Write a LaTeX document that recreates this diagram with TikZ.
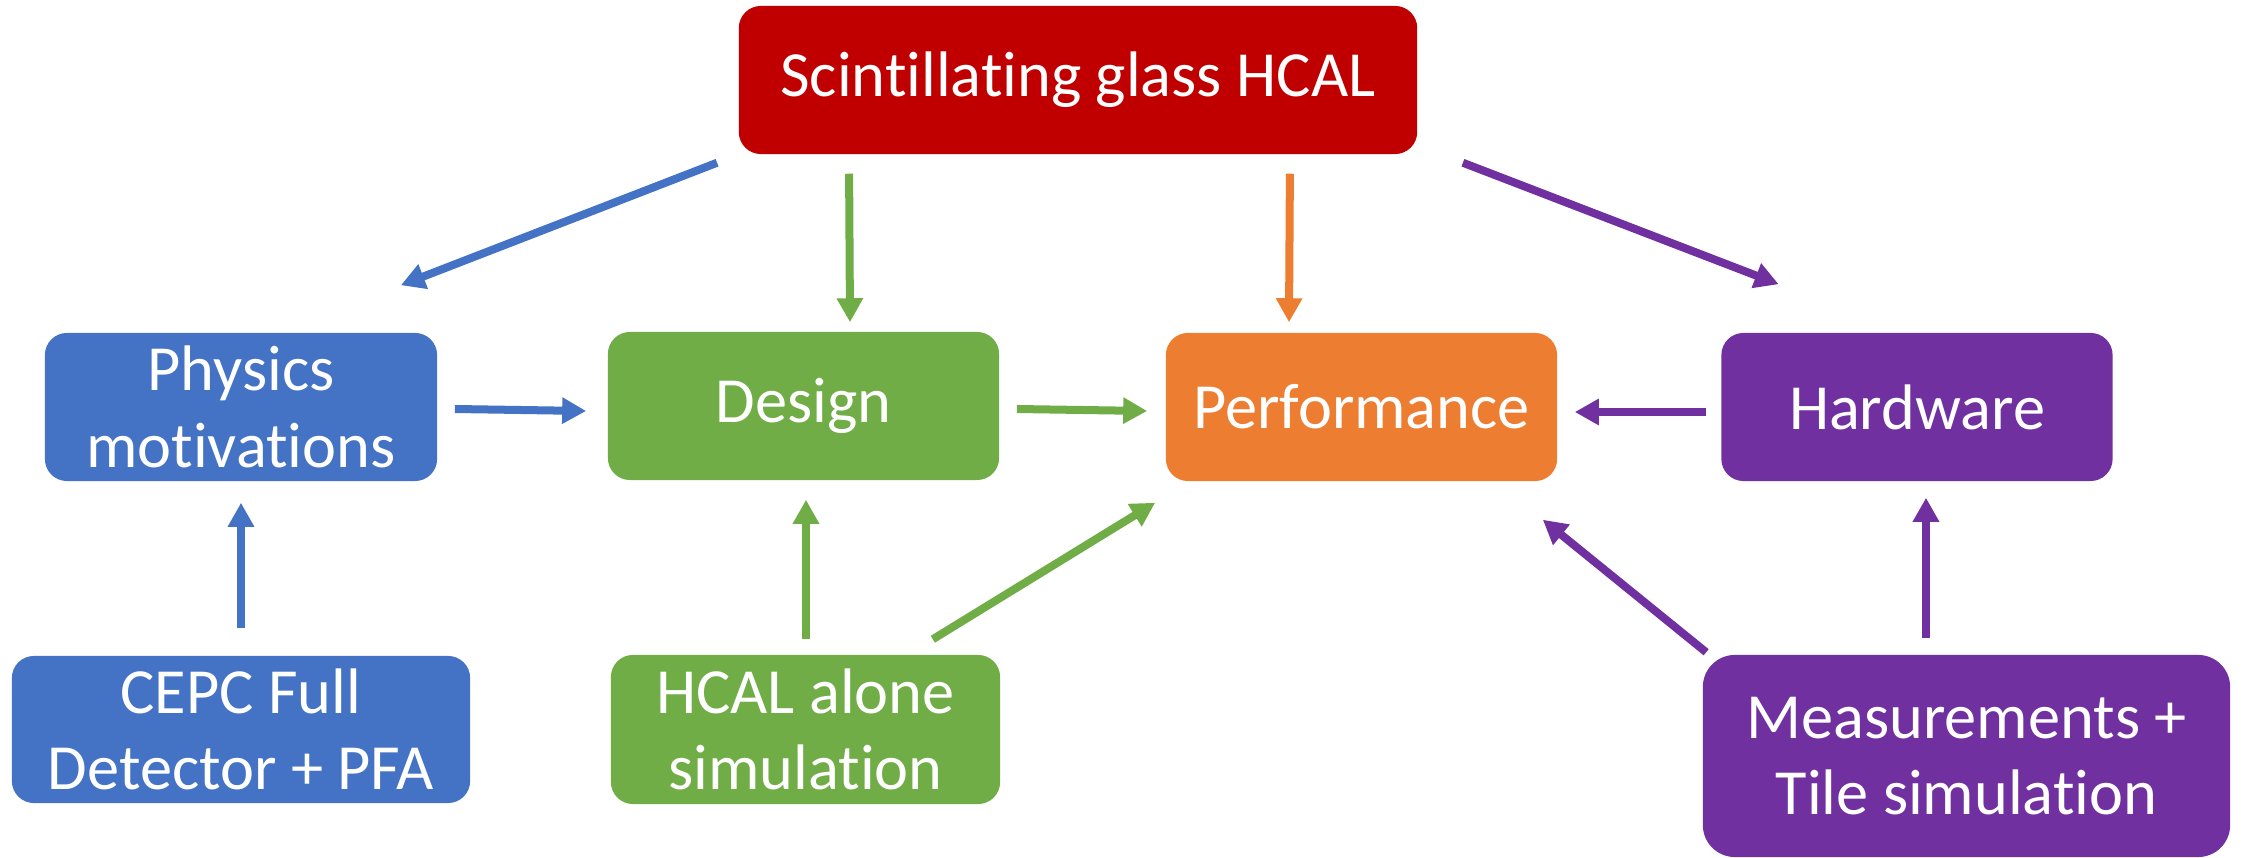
\documentclass[tikz,border=0pt]{standalone}
\usepackage{fontspec}
\setmainfont{Carlito}[Ligatures=NoCommon]
\usetikzlibrary{arrows.meta,calc}
\definecolor{hred}{RGB}{192,0,0}
\definecolor{hblue}{RGB}{68,114,196}
\definecolor{hgreen}{RGB}{112,173,71}
\definecolor{horange}{RGB}{237,125,49}
\definecolor{hpurple}{RGB}{112,48,160}

\begin{document}
\begin{tikzpicture}[
  x=0.01cm, y=-0.01cm,
  font=\fontsize{18.3}{21.8}\selectfont,
  box/.style={rounded corners=0.22cm, text=white, align=center, inner sep=0pt, minimum width=3.91cm, minimum height=1.48cm},
  arr/.style={-{Triangle[length=0.24cm,width=0.25cm]}, line width=0.08cm},
]
\useasboundingbox (0,0) rectangle (2244,858);
% boxes
\node[box, fill=hred, minimum width=6.78cm] (hcal) at (1078,80) {Scintillating glass HCAL};
\node[box, fill=hblue, minimum width=3.92cm] (phys) at (241,407) {Physics\\motivations};
\node[box, fill=hgreen] (design) at (803.5,406) {Design};
\node[box, fill=horange] (perf) at (1361.5,407) {Performance};
\node[box, fill=hpurple] (hard) at (1917,407) {Hardware};
\node[box, fill=hblue, minimum width=4.58cm, minimum height=1.47cm] (cepc) at (241,729.5) {CEPC Full\\Detector + PFA};
\node[box, fill=hgreen, minimum width=3.89cm, minimum height=1.49cm] (alone) at (805.5,729.5) {HCAL alone\\simulation};
\node[box, fill=hpurple, rounded corners=0.32cm, minimum width=5.27cm, minimum height=2.02cm] (meas) at (1966.5,756) {Measurements +\\Tile simulation};
% arrows
\draw[arr, hblue] ($(hcal.south west)+(-21,8)$) -- ($(phys.north east)+(-37,-47)$);
\draw[arr, hgreen] ($(hcal.south west)+(111,19)$) -- ($(design.north)+(46.5,-9)$);
\draw[arr, horange] ($(hcal.south east)+(-128,19)$) -- ($(perf.north)+(-72.5,-10)$);
\draw[arr, hpurple] ($(hcal.south east)+(45,8)$) -- ($(hard.north west)+(58,-48)$);
\draw[arr, hblue] ($(phys.east)+(17,2)$) -- ($(design.west)+(-21,5)$);
\draw[arr, hgreen] ($(design.east)+(17,3)$) -- ($(perf.west)+(-18,4)$);
\draw[arr, hpurple] ($(hard.west)+(-15,5)$) -- ($(perf.east)+(17,5)$);
\draw[arr, hblue] ($(cepc.north)+(0,-27)$) -- ($(phys.south)+(0,21)$);
\draw[arr, hgreen] ($(alone.north)+(0.5,-15)$) -- ($(design.south)+(2.5,19)$);
\draw[arr, hgreen] ($(alone.north east)+(-68,-15)$) -- ($(perf.south west)+(-10,21)$);
\draw[arr, hpurple] ($(meas.north west)+(4,-2)$) -- ($(perf.south east)+(-15,38)$);
\draw[arr, hpurple] ($(meas.north)+(-40.5,-16)$) -- ($(hard.south)+(9,16)$);
\end{tikzpicture}
\end{document}
